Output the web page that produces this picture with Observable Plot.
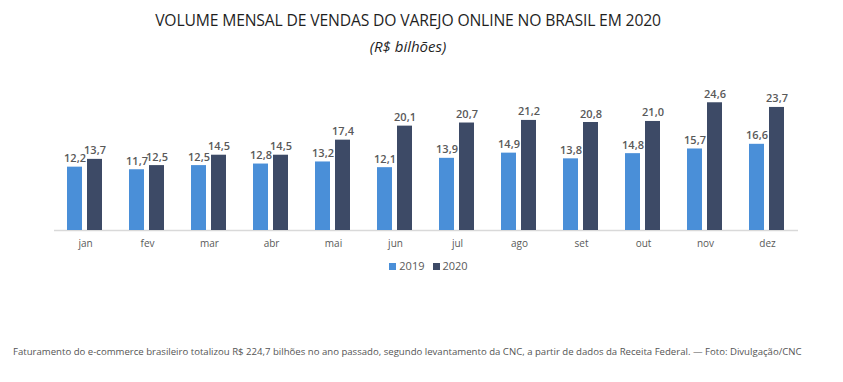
<!DOCTYPE html>
<html>
<head>
<meta charset="utf-8">
<script src="https://cdn.jsdelivr.net/npm/d3@7"></script>
<script src="https://cdn.jsdelivr.net/npm/@observablehq/plot@0.6"></script>
<style>
  body { margin: 0; background: #fff; width: 843px; height: 382px; overflow: hidden; position: relative; font-family: "Open Sans", sans-serif; }
  #title { position: absolute; top: 9px; left: 0; width: 843px; text-align: center; font-size: 15.7px; color: #1f1f1f; letter-spacing: -0.15px; padding-right: 27px; box-sizing: border-box; }
  #subtitle { position: absolute; top: 36px; left: 0; width: 843px; text-align: center; font-size: 15px; font-style: italic; color: #1f1f1f; padding-right: 27px; box-sizing: border-box; }
  #chart { position: absolute; top: 62px; left: 0; }
  #legend { position: absolute; top: 258px; left: 0; width: 843px; text-align: center; font-size: 11px; color: #595959; padding-left: 14px; box-sizing: border-box; }
  #legend span.sw { display: inline-block; width: 7px; height: 7px; margin-right: 3px; vertical-align: 0px; }
  #legend span.it { margin: 0 4px; }
  #caption { position: absolute; top: 345px; left: 13px; font-size: 9.6px; color: #555; white-space: nowrap; }
</style>
</head>
<body>
<div id="title">VOLUME MENSAL DE VENDAS DO VAREJO ONLINE NO BRASIL EM 2020</div>
<div id="subtitle">(R$ bilhões)</div>
<div id="chart"></div>
<div id="legend"></div>
<div id="caption">Faturamento do e-commerce brasileiro totalizou R$ 224,7 bilhões no ano passado, segundo levantamento da CNC, a partir de dados da Receita Federal. — Foto: Divulgação/CNC</div>
<script>
const months = ["jan","fev","mar","abr","mai","jun","jul","ago","set","out","nov","dez"];
const years = ["2019","2020"];
const values2019 = [12.2,11.7,12.5,12.8,13.2,12.1,13.9,14.9,13.8,14.8,15.7,16.6];
const values2020 = [13.7,12.5,14.5,14.5,17.4,20.1,20.7,21.2,20.8,21.0,24.6,23.7];
const colors = ["#4a8fd8","#3d4a66"];

const data = [];
months.forEach((m, i) => {
  data.push({month: m, year: "2019", value: values2019[i]});
  data.push({month: m, year: "2020", value: values2020[i]});
});
const fmt = v => v.toFixed(1).replace(".", ",");

const chart = Plot.plot({
  width: 843,
  height: 200,
  marginLeft: 53,
  marginRight: 45,
  marginTop: 33,
  marginBottom: 32,
  style: {fontFamily: "Open Sans, sans-serif", background: "transparent"},
  fx: {domain: months, padding: 0, axis: "bottom", tickSize: 0, tickPadding: 9, label: null, fontSize: 11},
  x: {domain: years, axis: null, paddingInner: 0.24, paddingOuter: 0.6},
  y: {domain: [0, 26], axis: null},
  color: {domain: years, range: colors},
  marks: [
    Plot.ruleY([0], {stroke: "#d9d9d9", strokeWidth: 1.5, facetAnchor: null}),
    Plot.barY(data, {fx: "month", x: "year", y: "value", fill: "year"}),
    Plot.text(data, {fx: "month", x: "year", y: "value", text: d => fmt(d.value), lineAnchor: "bottom", dy: -5, fill: "#595959", fontSize: 11, fontWeight: 600})
  ]
});
chart.querySelectorAll("g[aria-label='fx-axis tick label'] text").forEach(t => t.setAttribute("fill", "#595959"));
document.getElementById("chart").appendChild(chart);

const legend = document.getElementById("legend");
years.forEach((y, i) => {
  const it = document.createElement("span");
  it.className = "it";
  it.innerHTML = `<span class="sw" style="background:${colors[i]}"></span>${y}`;
  legend.appendChild(it);
});
</script>
</body>
</html>
